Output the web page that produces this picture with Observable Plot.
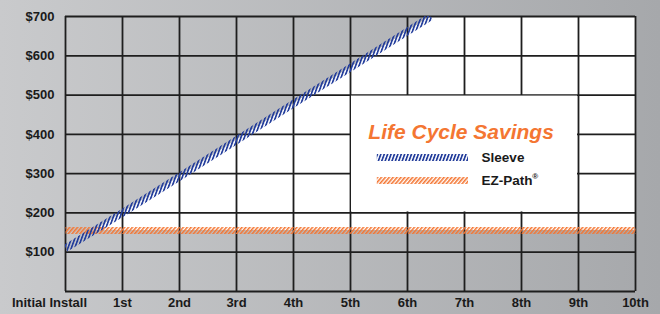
<!DOCTYPE html>
<html>
<head>
<meta charset="utf-8">
<script src="https://cdn.jsdelivr.net/npm/d3@7"></script>
<script src="https://cdn.jsdelivr.net/npm/@observablehq/plot@0.6"></script>
<style>
  html, body { margin: 0; padding: 0; background: #b8b9bc; }
  #chart svg { display: block; }
</style>
</head>
<body>
<div id="chart"></div>
<script>
// ---- data ----
const years = [0, 1, 2, 3, 4, 5, 6, 7, 8, 9, 10];
const xLabels = ["Initial Install", "1st", "2nd", "3rd", "4th", "5th", "6th", "7th", "8th", "9th", "10th"];
const yTicks = [0, 100, 200, 300, 400, 500, 600, 700];
const yLabelValues = [100, 200, 300, 400, 500, 600, 700];
const sleeveYears = [0, 1, 2, 3, 4, 5, 6, 6.41];
const sleeveCost = [110, 200, 292, 385, 478, 570, 662, 700];
const ezPathCost = [155, 155, 155, 155, 155, 155, 155, 155, 155, 155, 155];
const seriesNames = ["Sleeve", "EZ-Path"];
const legendTitle = "Life Cycle Savings";

// ---- derived tables ----
const sleeve = sleeveYears.map((x, i) => ({x, y: sleeveCost[i]}));
const ezPath = years.map((x, i) => ({x, y: ezPathCost[i]}));
const whiteRegion = sleeve.concat([{x: 10, y: 700}]);
const xLab = years.map((x, i) => ({x, label: xLabels[i]}));

const BLUE = "#233d9b";
const ORANGE = "#f47632";
const GRID = "#1e1e1e";
const font = "'Liberation Sans', Arial, Helvetica, sans-serif";

const chart = Plot.plot({
  width: 660,
  height: 314,
  marginLeft: 65,
  marginRight: 25,
  marginTop: 16,
  marginBottom: 23,
  style: {fontFamily: font, background: "transparent", overflow: "visible"},
  x: {domain: [0, 10], axis: null},
  y: {domain: [0, 700], axis: null},
  marks: [
    // white region under the Sleeve line
    Plot.areaY(whiteRegion, {x: "x", y1: 0, y2: "y", fill: "white", clip: true}),
    // gray region under the EZ-Path line
    Plot.areaY(ezPath, {x: "x", y1: 0, y2: "y", fill: "url(#bgGrad)"}),
    // grid
    Plot.ruleX(years, {stroke: GRID, strokeWidth: 1.8}),
    Plot.ruleY(yTicks, {stroke: GRID, strokeWidth: 1.8}),
    // legend box
    Plot.rect([{x1: 5, x2: 9, y1: 200, y2: 500}], {x1: "x1", x2: "x2", y1: "y1", y2: "y2", fill: "white", inset: 1}),
    // series lines
    Plot.line(ezPath, {x: "x", y: "y", stroke: "url(#hatchOrange)", strokeWidth: 7, strokeLinecap: "butt"}),
    Plot.line(sleeve, {x: "x", y: "y", stroke: "url(#hatchBlue)", strokeWidth: 7.5, strokeLinecap: "butt", clip: true}),
    // axis labels
    Plot.text(yLabelValues, {x: 0, y: d => d, text: d => "$" + d, textAnchor: "end", dx: -11, fontSize: 13, fontWeight: "bold", fill: "#1a1a1a"}),
    Plot.text(xLab.slice(0, 1), {x: "x", text: "label", frameAnchor: "bottom", dy: 15.5, dx: -16, fontSize: 13, fontWeight: "bold", fill: "#1a1a1a"}),
    Plot.text(xLab.slice(1), {x: "x", text: "label", frameAnchor: "bottom", dy: 15.5, fontSize: 13, fontWeight: "bold", fill: "#1a1a1a"}),
    // legend
    Plot.text([legendTitle], {x: 6.94, y: 406, text: d => d, fontSize: 21, fontWeight: "bold", fontStyle: "italic", fill: ORANGE}),
    Plot.ruleY([341], {x1: 5.47, x2: 7.07, y: d => d, stroke: "url(#hatchBlue)", strokeWidth: 7}),
    Plot.ruleY([282.5], {x1: 5.47, x2: 7.07, y: d => d, stroke: "url(#hatchOrange)", strokeWidth: 7}),
    Plot.text([seriesNames[0]], {x: 7.3, y: 341, text: d => d, textAnchor: "start", fontSize: 13.5, fontWeight: "bold", fill: "#1a1a1a"}),
    Plot.text([seriesNames[1]], {x: 7.3, y: 282.5, text: d => d, textAnchor: "start", fontSize: 13.5, fontWeight: "bold", fill: "#1a1a1a"}),
    Plot.text(["®"], {x: 8.19, y: 282.5, text: d => d, textAnchor: "start", dy: -4, fontSize: 8, fontWeight: "bold", fill: "#1a1a1a"})
  ]
});

// defs: background gradient and hatch patterns
const svg = d3.select(chart);
const defs = svg.insert("defs", ":first-child");
const grad = defs.append("linearGradient").attr("id", "bgGrad")
  .attr("gradientUnits", "userSpaceOnUse").attr("x1", 0).attr("y1", 0).attr("x2", 660).attr("y2", 0);
grad.append("stop").attr("offset", 0).attr("stop-color", "#c9cacc");
grad.append("stop").attr("offset", 1).attr("stop-color", "#a6a8ab");
const pb = defs.append("pattern").attr("id", "hatchBlue").attr("patternUnits", "userSpaceOnUse")
  .attr("width", 3.2).attr("height", 6).attr("patternTransform", "rotate(20)");
pb.append("rect").attr("width", 1.7).attr("height", 6).attr("fill", BLUE);
const po = defs.append("pattern").attr("id", "hatchOrange").attr("patternUnits", "userSpaceOnUse")
  .attr("width", 3).attr("height", 6).attr("patternTransform", "rotate(40)");
po.append("rect").attr("width", 1.6).attr("height", 6).attr("fill", ORANGE);
svg.insert("rect", "defs + *").attr("x", 0).attr("y", 0).attr("width", 660).attr("height", 314).attr("fill", "url(#bgGrad)");

document.getElementById("chart").appendChild(chart);
</script>
</body>
</html>
